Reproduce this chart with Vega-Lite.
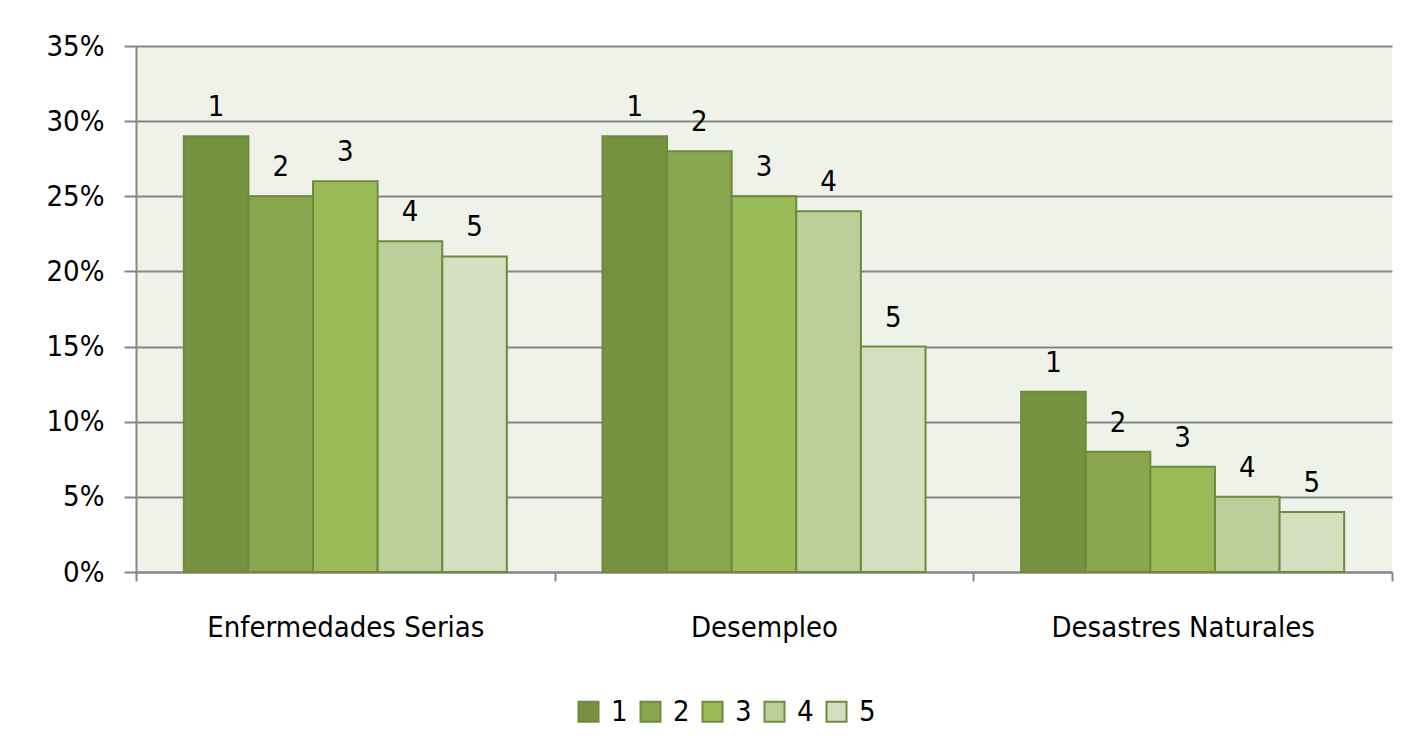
{
  "$schema": "https://vega.github.io/schema/vega-lite/v6.json",
  "width": 1256,
  "height": 526,
  "autosize": {"type": "none"},
  "padding": {"left": 136, "top": 46, "right": 17, "bottom": 184},
  "background": "#ffffff",
  "data": {
    "values": [
      {"categoria": "Enfermedades Serias", "serie": "1", "valor": 0.29},
      {"categoria": "Enfermedades Serias", "serie": "2", "valor": 0.25},
      {"categoria": "Enfermedades Serias", "serie": "3", "valor": 0.26},
      {"categoria": "Enfermedades Serias", "serie": "4", "valor": 0.22},
      {"categoria": "Enfermedades Serias", "serie": "5", "valor": 0.21},
      {"categoria": "Desempleo", "serie": "1", "valor": 0.29},
      {"categoria": "Desempleo", "serie": "2", "valor": 0.28},
      {"categoria": "Desempleo", "serie": "3", "valor": 0.25},
      {"categoria": "Desempleo", "serie": "4", "valor": 0.24},
      {"categoria": "Desempleo", "serie": "5", "valor": 0.15},
      {"categoria": "Desastres Naturales", "serie": "1", "valor": 0.12},
      {"categoria": "Desastres Naturales", "serie": "2", "valor": 0.08},
      {"categoria": "Desastres Naturales", "serie": "3", "valor": 0.07},
      {"categoria": "Desastres Naturales", "serie": "4", "valor": 0.05},
      {"categoria": "Desastres Naturales", "serie": "5", "valor": 0.04}
    ]
  },
  "encoding": {
    "x": {
      "field": "categoria",
      "type": "nominal",
      "sort": ["Enfermedades Serias", "Desempleo", "Desastres Naturales"],
      "scale": {"paddingInner": 0, "paddingOuter": 0},
      "axis": {
        "title": null,
        "labelAngle": 0,
        "tickBand": "extent",
        "tickSize": 9,
        "tickColor": "#868686",
        "tickWidth": 2,
        "domainColor": "#868686",
        "domainWidth": 2,
        "labelPadding": 32,
        "labelFontSize": 29,
        "labelFont": "DejaVu Sans Condensed",
        "labelColor": "#000000",
        "labelLimit": 0,
        "grid": false
      }
    },
    "xOffset": {
      "field": "serie",
      "type": "nominal",
      "sort": ["1", "2", "3", "4", "5"],
      "scale": {"paddingInner": 0, "paddingOuter": 0.74}
    },
    "y": {
      "field": "valor",
      "type": "quantitative",
      "scale": {"domain": [0, 0.35], "nice": false},
      "axis": {
        "title": null,
        "format": ".0%",
        "values": [0, 0.05, 0.1, 0.15, 0.2, 0.25, 0.3, 0.35],
        "tickSize": 12,
        "tickColor": "#868686",
        "tickWidth": 2,
        "domainColor": "#868686",
        "domainWidth": 2,
        "gridColor": "#868686",
        "gridWidth": 2,
        "labelPadding": 20,
        "labelFontSize": 29,
        "labelFont": "DejaVu Sans Condensed",
        "labelColor": "#000000"
      }
    }
  },
  "layer": [
    {
      "mark": {"type": "bar", "stroke": "#6E8B3D", "strokeWidth": 2},
      "encoding": {
        "color": {
          "field": "serie",
          "type": "nominal",
          "sort": ["1", "2", "3", "4", "5"],
          "scale": {
            "domain": ["1", "2", "3", "4", "5"],
            "range": ["#76913F", "#89A54E", "#9BBB59", "#BBCF9A", "#D3DFBF"]
          },
          "legend": {
            "title": null,
            "orient": "none",
            "legendX": 438,
            "legendY": 651,
            "direction": "horizontal",
            "symbolType": "square",
            "symbolSize": 400,
            "symbolStrokeColor": "#6E8B3D",
            "symbolStrokeWidth": 2,
            "labelFontSize": 29,
            "labelFont": "DejaVu Sans Condensed",
            "labelColor": "#000000",
            "columnPadding": 8,
            "labelOffset": 8
          }
        }
      }
    },
    {
      "mark": {"type": "text", "baseline": "alphabetic", "dy": -20, "fontSize": 29, "font": "DejaVu Sans Condensed", "color": "#000000"},
      "encoding": {
        "text": {"field": "serie", "type": "nominal"}
      }
    }
  ],
  "config": {
    "view": {"fill": "#EFF2E9", "stroke": null}
  }
}
